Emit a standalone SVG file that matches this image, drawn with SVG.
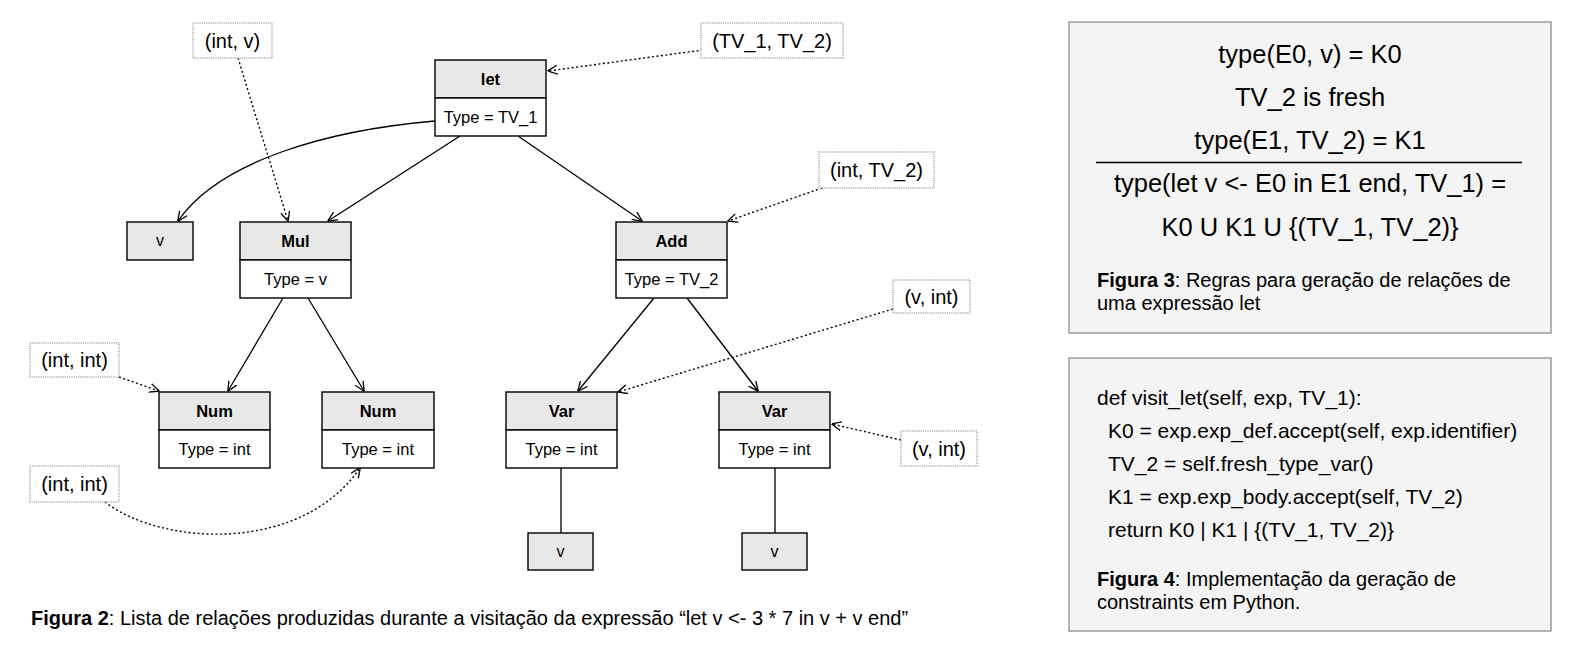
<svg xmlns="http://www.w3.org/2000/svg" width="1582" height="651" viewBox="0 0 1582 651">
<style>
text{font-family:"Liberation Sans",Arial,Helvetica,sans-serif;fill:#000}
.box{fill:#fff;stroke:#000;stroke-width:1.4}
.hdr{fill:#e8e8e8;stroke:#000;stroke-width:1.4}
.t{font-size:16.5px;text-anchor:middle}
.b{font-size:16.5px;font-weight:bold;text-anchor:middle}
.sv{font-size:16px;text-anchor:middle}
.lbl{fill:#fff;stroke:#c4c4c4;stroke-width:2.2;stroke-dasharray:1.2 1}
.lt{font-size:20px;text-anchor:middle}
.edge{fill:none;stroke:#000;stroke-width:1.3}
.dot{fill:none;stroke:#000;stroke-width:1.4;stroke-dasharray:2 2.5}
.panel{fill:#f4f4f4;stroke:#9a9a9a;stroke-width:1.5}
.f{font-size:25.5px;text-anchor:middle}
.cap{font-size:20px}
.code{font-size:21px}
</style>
<defs>
<marker id="arr" viewBox="0 0 10 10" refX="9.5" refY="5" markerWidth="10" markerHeight="10" markerUnits="userSpaceOnUse" orient="auto">
<path d="M0,0.5 L10,5 L0,9.5" fill="none" stroke="#000" stroke-width="1.3"/>
</marker>
</defs>
<rect width="1582" height="651" fill="#fff"/>

<g id="connectors">
<path class="edge" d="M435,121 C330,130 220,160 178,221" marker-end="url(#arr)"/>
<path class="edge" d="M460,136 L328,221" marker-end="url(#arr)"/>
<path class="edge" d="M518,136 L642,221" marker-end="url(#arr)"/>
<path class="edge" d="M283,298 L228,391" marker-end="url(#arr)"/>
<path class="edge" d="M308,298 L364,391" marker-end="url(#arr)"/>
<path class="edge" d="M654,298 L578,391" marker-end="url(#arr)"/>
<path class="edge" d="M687,298 L758,391" marker-end="url(#arr)"/>
<path class="edge" d="M561,468 L561,533"/>
<path class="edge" d="M775,468 L775,533"/>
<path class="dot" d="M238,58 L288,221" marker-end="url(#arr)"/>
<path class="dot" d="M703,50 L548,71" marker-end="url(#arr)"/>
<path class="dot" d="M822,188 L728,221" marker-end="url(#arr)"/>
<path class="dot" d="M893,309 L618,392" marker-end="url(#arr)"/>
<path class="dot" d="M901,440 L832,424" marker-end="url(#arr)"/>
<path class="dot" d="M119,377 L159,391" marker-end="url(#arr)"/>
<path class="dot" d="M105,502 C160,545 300,555 360,468" marker-end="url(#arr)"/>
</g>

<g id="node-let">
<rect class="hdr" x="435" y="60" width="111" height="38"/>
<rect class="box" x="435" y="98" width="111" height="38"/>
<text class="b" x="490.5" y="85">let</text>
<text class="t" x="490.5" y="123">Type = TV_1</text>
</g>
<g id="node-v0">
<rect class="hdr" x="127" y="222" width="66" height="38"/>
<text class="sv" x="160" y="246">v</text>
</g>
<g id="node-mul">
<rect class="hdr" x="240" y="222" width="111" height="38"/>
<rect class="box" x="240" y="260" width="111" height="38"/>
<text class="b" x="295.5" y="247">Mul</text>
<text class="t" x="295.5" y="285">Type = v</text>
</g>
<g id="node-add">
<rect class="hdr" x="616" y="222" width="111" height="38"/>
<rect class="box" x="616" y="260" width="111" height="38"/>
<text class="b" x="671.5" y="247">Add</text>
<text class="t" x="671.5" y="285">Type = TV_2</text>
</g>
<g id="node-num1">
<rect class="hdr" x="159" y="392" width="111" height="38"/>
<rect class="box" x="159" y="430" width="111" height="38"/>
<text class="b" x="214.5" y="417">Num</text>
<text class="t" x="214.5" y="455">Type = int</text>
</g>
<g id="node-num2">
<rect class="hdr" x="322" y="392" width="112" height="38"/>
<rect class="box" x="322" y="430" width="112" height="38"/>
<text class="b" x="378" y="417">Num</text>
<text class="t" x="378" y="455">Type = int</text>
</g>
<g id="node-var1">
<rect class="hdr" x="506" y="392" width="111" height="38"/>
<rect class="box" x="506" y="430" width="111" height="38"/>
<text class="b" x="561.5" y="417">Var</text>
<text class="t" x="561.5" y="455">Type = int</text>
</g>
<g id="node-var2">
<rect class="hdr" x="719" y="392" width="111" height="38"/>
<rect class="box" x="719" y="430" width="111" height="38"/>
<text class="b" x="774.5" y="417">Var</text>
<text class="t" x="774.5" y="455">Type = int</text>
</g>
<g id="node-v1">
<rect class="hdr" x="528" y="533" width="65" height="37"/>
<text class="sv" x="560.5" y="557">v</text>
</g>
<g id="node-v2">
<rect class="hdr" x="742" y="533" width="65" height="37"/>
<text class="sv" x="774.5" y="557">v</text>
</g>

<g id="label-int-v">
<rect class="lbl" x="193" y="23" width="79" height="35"/>
<text class="lt" x="232.5" y="47.5">(int, v)</text>
</g>
<g id="label-tv1-tv2">
<rect class="lbl" x="701" y="23" width="142" height="35"/>
<text class="lt" x="772" y="47.5">(TV_1, TV_2)</text>
</g>
<g id="label-int-tv2">
<rect class="lbl" x="819" y="152" width="115" height="36"/>
<text class="lt" x="876.5" y="177">(int, TV_2)</text>
</g>
<g id="label-v-int-1">
<rect class="lbl" x="893" y="280" width="77" height="33"/>
<text class="lt" x="931.5" y="303.5">(v, int)</text>
</g>
<g id="label-v-int-2">
<rect class="lbl" x="901" y="431" width="76" height="35"/>
<text class="lt" x="939" y="455.5">(v, int)</text>
</g>
<g id="label-int-int-1">
<rect class="lbl" x="30" y="343" width="89" height="34"/>
<text class="lt" x="74.5" y="367">(int, int)</text>
</g>
<g id="label-int-int-2">
<rect class="lbl" x="30" y="466" width="89" height="36"/>
<text class="lt" x="74.5" y="491">(int, int)</text>
</g>

<g id="caption-fig2">
<text class="cap" x="31" y="625"><tspan font-weight="bold">Figura 2</tspan>: Lista de relações produzidas durante a visitação da expressão “let v &lt;- 3 * 7 in v + v end”</text>
</g>

<g id="panel-fig3">
<rect class="panel" x="1069" y="22" width="482" height="311"/>
<text class="f" x="1310" y="63">type(E0, v) = K0</text>
<text class="f" x="1310" y="106">TV_2 is fresh</text>
<text class="f" x="1310" y="149">type(E1, TV_2) = K1</text>
<line x1="1096" y1="162.5" x2="1522" y2="162.5" stroke="#000" stroke-width="1.5"/>
<text class="f" x="1310" y="192">type(let v &lt;- E0 in E1 end, TV_1) =</text>
<text class="f" x="1310" y="235.5">K0 U K1 U {(TV_1, TV_2)}</text>
<text class="cap" x="1097" y="287"><tspan font-weight="bold">Figura 3</tspan>: Regras para geração de relações de</text>
<text class="cap" x="1097" y="310">uma expressão let</text>
</g>

<g id="panel-fig4">
<rect class="panel" x="1069" y="358" width="482" height="273"/>
<text class="code" x="1097" y="405">def visit_let(self, exp, TV_1):</text>
<text class="code" x="1108" y="437.5">K0 = exp.exp_def.accept(self, exp.identifier)</text>
<text class="code" x="1108" y="470.5">TV_2 = self.fresh_type_var()</text>
<text class="code" x="1108" y="503.5">K1 = exp.exp_body.accept(self, TV_2)</text>
<text class="code" x="1108" y="536.5">return K0 | K1 | {(TV_1, TV_2)}</text>
<text class="cap" x="1097" y="586"><tspan font-weight="bold">Figura 4</tspan>: Implementação da geração de</text>
<text class="cap" x="1097" y="608.5">constraints em Python.</text>
</g>
</svg>
